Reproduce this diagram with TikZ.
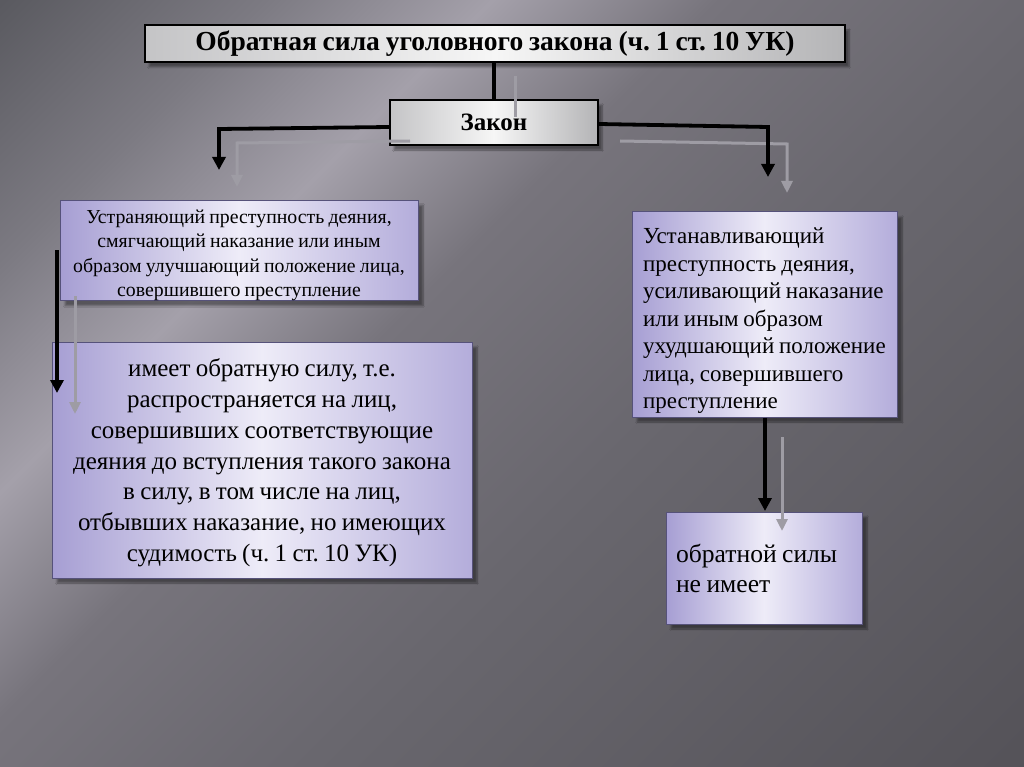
\documentclass[tikz,border=0pt]{standalone}
\usepackage{fontspec}
\setmainfont{Liberation Serif}[WordSpace=0.85]
\usetikzlibrary{arrows.meta,shadows.blur}
\definecolor{cA}{HTML}{5A5A60}
\definecolor{cB}{HTML}{7C7A82}
\definecolor{cC}{HTML}{A4A0AA}
\definecolor{cD}{HTML}{77747C}
\definecolor{cE}{HTML}{69676E}
\definecolor{cF}{HTML}{545258}
\pgfdeclarehorizontalshading{bgband}{100bp}{color(0bp)=(cA); color(14.6bp)=(cA); color(25bp)=(cB); color(34bp)=(cC); color(43bp)=(cD); color(57bp)=(cE); color(86bp)=(cF); color(100bp)=(cF)}
\definecolor{lavL}{HTML}{A69ED3}
\definecolor{lavM}{HTML}{EEECF8}
\definecolor{lavR}{HTML}{B4ADDB}
\definecolor{lavB}{HTML}{56527A}
\definecolor{grayL}{HTML}{C4C4C6}
\definecolor{grayM}{HTML}{F6F6F6}
\definecolor{grayR}{HTML}{B4B4B6}
\definecolor{ghost}{HTML}{9E9CA4}
\tikzset{
  graybox/.style={draw=black, line width=1.6pt, left color=grayL, right color=grayR, middle color=grayM,
    blur shadow={shadow xshift=4pt, shadow yshift=-5pt, shadow blur steps=6}, inner sep=0pt},
  lavbox/.style={draw=lavB, line width=1pt, left color=lavL, right color=lavR, middle color=lavM,
    blur shadow={shadow xshift=5pt, shadow yshift=-5pt, shadow blur steps=6}, inner sep=0pt},
  blackarrow/.style={draw=black, line width=3.8pt, -{Triangle[width=13pt,length=13pt]}},
  blackline/.style={draw=black, line width=3.8pt},
  ghostarrow/.style={draw=ghost, line width=3pt, -{Triangle[width=11pt,length=12pt]}},
  ghostline/.style={draw=ghost, line width=3pt},
}
\begin{document}
\frenchspacing
\begin{tikzpicture}[x=1pt,y=-1pt]
\useasboundingbox (0,0) rectangle (1024,767);
% background
\shade[shading=bgband, shading angle=-45] (0,0) rectangle (1024,767);

% nodes
\node[graybox, minimum width=700pt, minimum height=37pt, font=\bfseries\fontsize{27.5}{30}\selectfont]
  (title) at (495,43.5) {Обратная сила уголовного закона (ч. 1 ст. 10 УК)};
\node[graybox, minimum width=208pt, minimum height=45pt, font=\bfseries\fontsize{25}{28}\selectfont]
  (zakon) at (494,122.5) {Закон};

\node[lavbox, minimum width=358pt, minimum height=95pt, text width=354pt, align=flush center, text height=23pt,
  font=\fontsize{19.8}{24.5}\selectfont] (lb1) at (239,250.5)
  {Устраняющий преступность деяния,\\ смягчающий наказание или иным\\ образом улучшающий положение лица,\\ совершившего преступление};
\node[lavbox, minimum width=420pt, minimum height=236pt, text width=414pt, align=flush center, text height=23.5pt,
  font=\fontsize{25}{30.7}\selectfont] (lb2) at (262,460)
  {имеет обратную силу, т.е.\\ распространяется на лиц,\\ совершивших соответствующие\\ деяния до вступления такого закона\\ в силу, в том числе на лиц,\\ отбывших наказание, но имеющих\\ судимость (ч. 1 ст. 10 УК)};
\node[lavbox, minimum width=265pt, minimum height=205pt, text width=243pt, align=flush left, text height=28pt,
  font=\fontsize{23}{27.5}\selectfont] (rb1) at (764.5,314.5)
  {\mbox{Устанавливающий}\\ \mbox{преступность деяния,}\\ \mbox{усиливающий наказание}\\ \mbox{или иным образом}\\ \mbox{ухудшающий положение}\\ \mbox{лица, совершившего}\\ \mbox{преступление}};
\node[lavbox, minimum width=196pt, minimum height=112pt, text width=176pt, align=flush left,
  font=\fontsize{25.6}{30}\selectfont] (rb2) at (764,568)
  {\mbox{обратной силы}\\ \mbox{не имеет}};

% free ends
\coordinate (lt) at (219,170);
\coordinate (rt) at (768,177);
\coordinate (glt) at (237,187);
\coordinate (grt) at (787,193);

% ghost (reflected) connectors
\draw[ghostline] (515,76) -- (515,117);
\draw[ghostarrow] (410,141) -- (237,143) -- (glt);
\draw[ghostarrow] (620,141) -- (787,144) -- (grt);

% black connectors
\draw[blackline] (title.south -| zakon.north) -- (zakon.north);
\draw[blackarrow] (zakon.west |- 0,127) -- (219,129) -- (lt);
\draw[blackarrow] (zakon.east |- 0,124) -- (768,127) -- (rt);

% left vertical
\draw[ghostarrow] (75,296) -- (75,414);
\draw[blackarrow] (57,250) -- (57,393);

% right vertical
\draw[blackarrow] (rb1.south -| 765,0) -- (765,511);
\draw[ghostarrow] (782,437) -- (782,531);
\end{tikzpicture}
\end{document}
